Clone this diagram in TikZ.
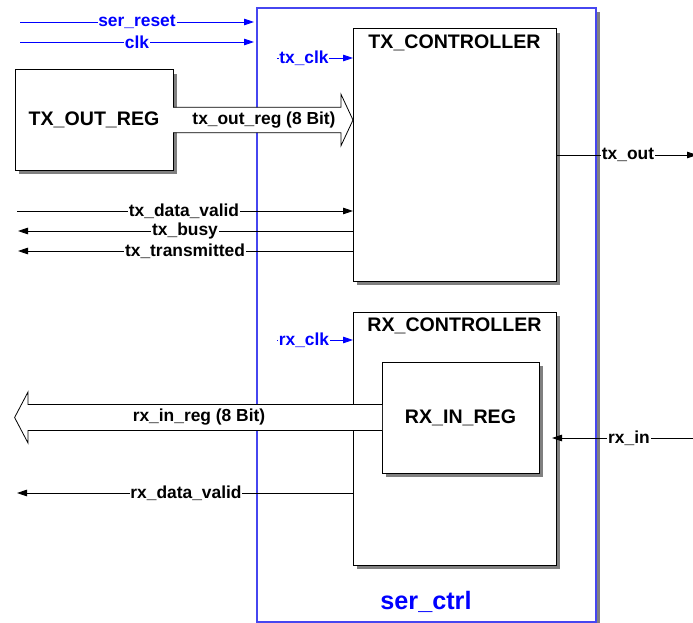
\documentclass[tikz,border=0pt]{standalone}
\usepackage{fontspec}
\setmainfont{Liberation Sans}
\usetikzlibrary{arrows.meta,shadows}
\definecolor{sigblue}{RGB}{0,0,255}
\definecolor{frameblue}{RGB}{70,70,240}
\definecolor{shadowgray}{RGB}{128,128,128}
\tikzset{
  shadowed/.style={drop shadow={shadow xshift=4pt,shadow yshift=-4pt,fill=shadowgray,opacity=1}},
  blockbox/.style={draw=black,fill=white,line width=1pt,outer sep=0pt,inner sep=0pt,shadowed,anchor=north west},
  framebox/.style={draw=frameblue,fill=white,line width=1.2pt,outer sep=0pt,inner sep=0pt,shadowed,anchor=north west},
  sig/.style={draw=black,line width=0.8pt,-{Triangle[length=10pt,width=6.5pt]}},
  sigb/.style={draw=sigblue,line width=0.8pt,-{Triangle[length=10pt,width=6.5pt]}},
  bus/.style={draw=black,fill=white,line width=0.8pt,line join=miter},
  siglabel/.style={fill=white,inner sep=0.8pt,font=\fontsize{17.4}{19}\selectfont\bfseries},
  buslabel/.style={inner sep=0pt,font=\fontsize{17.4}{19}\selectfont\bfseries},
  bluelabel/.style={siglabel,text=sigblue},
  titlelabel/.style={inner sep=0pt,font=\fontsize{19.6}{21}\selectfont\bfseries},
  ctrllabel/.style={inner sep=0pt,text=sigblue,font=\fontsize{25.2}{27}\selectfont\bfseries}
}
\begin{document}
\begin{tikzpicture}[x=1pt,y=-1pt]
\useasboundingbox (0,0) rectangle (693,623);

% outer frame
\node[framebox,minimum width=339pt,minimum height=614pt] (serctrl) at (257,8) {};
\node[ctrllabel] (serctrllabel) at (426,602) {ser\_ctrl};

% blocks
\node[blockbox,minimum width=158pt,minimum height=100pt] (txoutreg) at (15,70) {};
\node[titlelabel] (txoutregt) at (txoutreg.center) {TX\_OUT\_REG};
\node[blockbox,minimum width=203pt,minimum height=252pt] (txctrl) at (353,29) {};
\node[titlelabel] (txctrlt) at (454.5,43) {TX\_CONTROLLER};
\node[blockbox,minimum width=203pt,minimum height=253pt] (rxctrl) at (353,312) {};
\node[titlelabel] (rxctrlt) at (454.5,326) {RX\_CONTROLLER};
\node[blockbox,minimum width=157pt,minimum height=111pt] (rxinreg) at (382,362) {};
\node[titlelabel] (rxinregt) at (rxinreg.center) {RX\_IN\_REG};

% free ends
\coordinate (srin) at (20,22);
\coordinate (clkin) at (20,42);
\coordinate (txclkin) at (277,58);
\coordinate (rxclkin) at (277,340);
\coordinate (tdvin) at (17,211);
\coordinate (tbout) at (18,231);
\coordinate (ttout) at (18,251);
\coordinate (rdvout) at (17,493);
\coordinate (txoutend) at (697,155);
\coordinate (rxinsrc) at (693,438);
\coordinate (rxbustip) at (14.6,417.5);

% blue clock / reset signals
\draw[sigb,shorten >=3pt] (srin) -- (srin -| serctrl.west);
\node[bluelabel] at (137,22) {ser\_reset};
\draw[sigb,shorten >=3pt] (clkin) -- (clkin -| serctrl.west);
\node[bluelabel] at (137,42) {clk};
\draw[sigb] (txclkin) -- (txclkin -| txctrl.west);
\node[bluelabel] at (304,58) {tx\_clk};
\draw[sigb] (rxclkin) -- (rxclkin -| rxctrl.west);
\node[bluelabel] at (304,340) {rx\_clk};

% tx signals
\draw[sig] (tdvin) -- (tdvin -| txctrl.west);
\node[siglabel] at (184,211) {tx\_data\_valid};
\draw[sig] (tbout -| txctrl.west) -- (tbout);
\node[siglabel] at (185,231) {tx\_busy};
\draw[sig] (ttout -| txctrl.west) -- (ttout);
\node[siglabel] at (185,251) {tx\_transmitted};
\draw[sig] (txoutend -| txctrl.east) -- (txoutend);
\node[siglabel] at (628,155) {tx\_out};

% rx signals
\draw[sig] (rdvout -| rxctrl.west) -- (rdvout);
\node[siglabel] at (186,493) {rx\_data\_valid};
\draw[sig,shorten >=-4pt] (rxinsrc) -- (rxinsrc -| rxctrl.east);
\node[siglabel] at (629,438) {rx\_in};

% buses
\draw[bus] ([yshift=12.7pt]txoutreg.east) -- (341,107.3) -- (341,94.3) -- (txctrl.west |- txoutreg.east) -- (341,145.7) -- (341,132.7) -- ([yshift=-12.7pt]txoutreg.east);
\node[buslabel] at (264,120) {tx\_out\_reg (8 Bit)};
\draw[bus] ([yshift=13pt]rxinreg.west) -- (28,404.5) -- (28,392) -- (rxbustip) -- (28,443) -- (28,430.5) -- ([yshift=-13pt]rxinreg.west);
\node[buslabel] at (199,417.5) {rx\_in\_reg (8 Bit)};
\end{tikzpicture}
\end{document}
